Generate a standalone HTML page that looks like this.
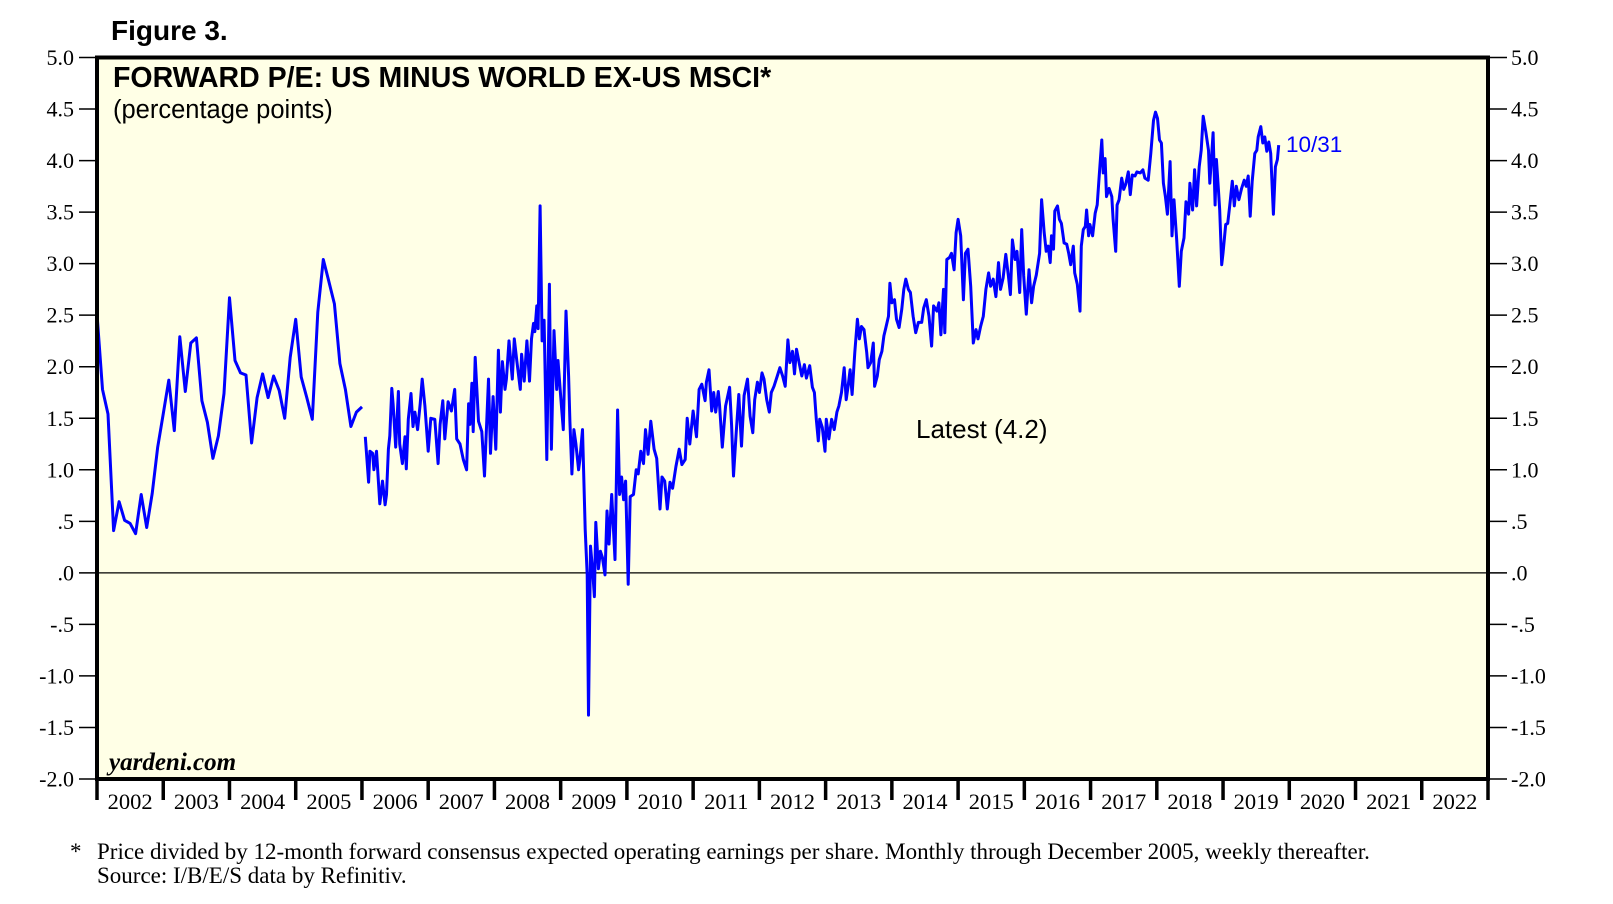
<!DOCTYPE html>
<html><head><meta charset="utf-8"><style>
html,body{margin:0;padding:0;background:#fff;}
svg{display:block;}
</style></head><body>
<svg id="chart" width="1613" height="904" viewBox="0 0 1613 904" xmlns="http://www.w3.org/2000/svg">
<text x="111" y="40" font-family="Liberation Sans, sans-serif" font-weight="bold" font-size="28">Figure 3.</text>
<rect x="97" y="57.5" width="1391" height="721.5" fill="#FFFFE6" stroke="none"/>
<g id="grid"></g>
<g id="series"></g>
<rect x="97" y="57.5" width="1391" height="721.5" fill="none" stroke="#000" stroke-width="4"/>
<g id="axes"></g>
<text x="113" y="87" font-family="Liberation Sans, sans-serif" font-weight="bold" font-size="28.5">FORWARD P/E: US MINUS WORLD EX-US MSCI*</text>
<text x="113" y="118" font-family="Liberation Sans, sans-serif" font-size="25.5">(percentage points)</text>
<text x="916" y="438" font-family="Liberation Sans, sans-serif" font-size="26">Latest (4.2)</text>
<text x="1286" y="152" font-family="Liberation Sans, sans-serif" font-size="22.5" fill="#0000FF">10/31</text>
<text x="109" y="770" font-family="Liberation Serif, serif" font-weight="bold" font-style="italic" font-size="25">yardeni.com</text>
<text x="70" y="859" font-family="Liberation Serif, serif" font-size="23">*</text>
<text x="97" y="859" font-family="Liberation Serif, serif" font-size="23">Price divided by 12-month forward consensus expected operating earnings per share. Monthly through December 2005, weekly thereafter.</text>
<text x="97" y="883" font-family="Liberation Serif, serif" font-size="23">Source: I/B/E/S data by Refinitiv.</text>
</svg>
<script>
const yTicks = [5.0,4.5,4.0,3.5,3.0,2.5,2.0,1.5,1.0,0.5,0.0,-0.5,-1.0,-1.5,-2.0];
const yTickLabels = ["5.0","4.5","4.0","3.5","3.0","2.5","2.0","1.5","1.0",".5",".0","-.5","-1.0","-1.5","-2.0"];
const years = [2002,2003,2004,2005,2006,2007,2008,2009,2010,2011,2012,2013,2014,2015,2016,2017,2018,2019,2020,2021,2022];
const monthlyStart = 2002.0;
const monthlyValues = [2.51,1.78,1.54,0.41,0.69,0.51,0.48,0.38,0.76,0.44,0.77,1.22,1.54,1.87,1.38,2.29,1.76,2.23,2.28,1.67,1.46,1.11,1.33,1.74,2.67,2.06,1.94,1.92,1.26,1.70,1.93,1.70,1.91,1.77,1.50,2.09,2.46,1.90,1.70,1.49,2.53,3.04,2.83,2.61,2.03,1.78,1.42,1.56,1.61];
const weeklyDates = [2006.05,2006.10,2006.12,2006.16,2006.18,2006.22,2006.27,2006.31,2006.35,2006.37,2006.40,2006.42,2006.45,2006.47,2006.51,2006.55,2006.57,2006.61,2006.65,2006.67,2006.70,2006.74,2006.77,2006.80,2006.84,2006.88,2006.91,2006.95,2007.00,2007.04,2007.10,2007.15,2007.18,2007.22,2007.25,2007.30,2007.35,2007.40,2007.43,2007.48,2007.53,2007.58,2007.61,2007.63,2007.66,2007.68,2007.71,2007.76,2007.81,2007.85,2007.87,2007.91,2007.94,2007.98,2008.02,2008.06,2008.09,2008.12,2008.16,2008.18,2008.22,2008.27,2008.30,2008.34,2008.39,2008.41,2008.45,2008.49,2008.53,2008.56,2008.59,2008.61,2008.64,2008.66,2008.69,2008.72,2008.75,2008.79,2008.83,2008.86,2008.90,2008.94,2008.96,2009.00,2009.04,2009.08,2009.12,2009.14,2009.17,2009.20,2009.23,2009.27,2009.29,2009.33,2009.37,2009.40,2009.42,2009.45,2009.48,2009.51,2009.53,2009.57,2009.60,2009.63,2009.67,2009.70,2009.73,2009.77,2009.82,2009.86,2009.89,2009.92,2009.95,2009.98,2010.02,2010.05,2010.10,2010.14,2010.17,2010.21,2010.25,2010.28,2010.32,2010.36,2010.41,2010.45,2010.50,2010.53,2010.57,2010.61,2010.65,2010.69,2010.74,2010.79,2010.83,2010.88,2010.91,2010.95,2011.00,2011.05,2011.09,
2011.13,2011.18,2011.20,2011.24,2011.28,2011.31,2011.34,2011.38,2011.40,2011.44,2011.49,2011.55,2011.58,2011.61,2011.65,2011.69,2011.73,2011.77,2011.82,2011.86,2011.90,2011.93,2011.97,2012.00,2012.04,2012.07,2012.11,2012.15,2012.18,2012.22,2012.27,2012.31,2012.35,2012.39,2012.43,2012.46,2012.50,2012.53,2012.56,2012.60,2012.64,2012.68,2012.71,2012.76,2012.80,2012.83,2012.86,2012.89,2012.91,2012.95,2012.99,2013.01,2013.05,2013.09,2013.13,2013.17,2013.20,2013.24,2013.28,2013.31,2013.34,2013.37,2013.40,2013.44,2013.48,2013.51,2013.54,2013.58,2013.62,2013.64,2013.68,2013.72,2013.74,2013.78,2013.81,2013.85,2013.88,2013.91,2013.95,2013.97,2014.00,2014.04,2014.07,2014.11,2014.15,2014.18,2014.21,2014.25,2014.28,2014.32,2014.36,2014.40,2014.45,2014.48,2014.52,2014.56,2014.60,2014.63,2014.68,2014.71,2014.74,2014.78,2014.80,2014.83,2014.87,2014.90,2014.94,2014.97,2015.00,2015.04,2015.08,2015.11,2015.15,2015.19,2015.23,2015.27,2015.30,2015.34,2015.38,2015.42,2015.46,2015.49,2015.53,2015.57,2015.61,2015.64,2015.68,2015.72,2015.76,2015.79,2015.82,2015.86,2015.89,2015.93,2015.96,2015.99,2016.03,2016.07,2016.11,2016.14,2016.18,2016.23,
2016.26,2016.30,2016.33,2016.36,2016.39,2016.41,2016.44,2016.46,2016.50,2016.53,2016.56,2016.60,2016.64,2016.67,2016.70,2016.74,2016.76,2016.80,2016.84,2016.86,2016.89,2016.92,2016.94,2016.97,2016.99,2017.03,2017.07,2017.10,2017.13,2017.17,2017.19,2017.22,2017.24,2017.28,2017.32,2017.34,2017.38,2017.40,2017.43,2017.47,2017.50,2017.53,2017.57,2017.60,2017.63,2017.67,2017.70,2017.75,2017.79,2017.82,2017.87,2017.91,2017.95,2017.98,2018.01,2018.04,2018.07,2018.10,2018.13,2018.16,2018.20,2018.23,2018.26,2018.30,2018.34,2018.37,2018.41,2018.44,2018.48,2018.50,2018.54,2018.57,2018.60,2018.64,2018.67,2018.70,2018.74,2018.78,2018.80,2018.83,2018.85,2018.88,2018.90,2018.93,2018.95,2018.98,2019.00,2019.04,2019.07,2019.10,2019.14,2019.17,2019.20,2019.24,2019.28,2019.32,2019.35,2019.38,2019.41,2019.44,2019.48,2019.51,2019.53,2019.57,2019.60,2019.63,2019.66,2019.69,2019.72,2019.76,2019.79,2019.82,2019.84];
const weeklyValues = [1.32,0.88,1.18,1.16,1.00,1.18,0.67,0.89,0.66,0.76,1.20,1.33,1.79,1.64,1.22,1.76,1.25,1.06,1.32,1.01,1.49,1.74,1.42,1.56,1.39,1.64,1.88,1.62,1.18,1.50,1.49,1.06,1.44,1.67,1.30,1.66,1.57,1.78,1.30,1.25,1.10,1.00,1.64,1.44,1.84,1.37,2.09,1.47,1.37,0.94,1.25,1.88,1.16,1.71,1.20,2.16,1.56,2.05,1.78,1.88,2.25,1.88,2.27,2.05,1.78,2.12,1.86,2.25,1.86,2.27,2.42,2.34,2.59,2.37,3.56,2.25,2.45,1.10,2.80,1.20,2.35,1.78,2.06,1.71,1.39,2.54,1.91,1.47,0.96,1.39,1.25,1.00,1.10,1.39,0.42,-0.02,-1.38,0.26,0.04,-0.23,0.49,0.04,0.21,0.15,-0.02,0.60,0.28,0.76,0.13,1.58,0.76,0.93,0.71,0.89,-0.11,0.74,0.76,1.00,0.96,1.18,1.06,1.39,1.15,1.47,1.20,1.11,0.62,0.93,0.89,0.62,0.88,0.82,1.03,1.20,1.05,1.10,1.50,1.25,1.57,1.32,1.78,
1.83,1.67,1.85,1.97,1.57,1.75,1.56,1.76,1.62,1.22,1.62,1.80,1.43,0.94,1.36,1.73,1.23,1.72,1.88,1.52,1.36,1.68,1.85,1.75,1.94,1.88,1.68,1.56,1.75,1.81,1.91,1.99,1.91,1.81,2.26,2.04,2.15,1.93,2.17,2.04,1.91,2.02,1.89,2.01,1.80,1.75,1.49,1.28,1.49,1.41,1.18,1.49,1.30,1.49,1.39,1.56,1.62,1.75,1.99,1.68,1.81,1.97,1.73,2.14,2.46,2.27,2.39,2.36,2.14,1.99,2.04,2.23,1.81,1.91,2.07,2.15,2.30,2.38,2.49,2.81,2.62,2.65,2.46,2.38,2.56,2.75,2.85,2.75,2.72,2.49,2.33,2.43,2.43,2.57,2.65,2.49,2.20,2.59,2.54,2.62,2.31,2.75,2.33,3.04,3.06,3.10,2.94,3.30,3.43,3.27,2.65,3.10,3.14,2.78,2.23,2.36,2.27,2.39,2.49,2.75,2.91,2.78,2.85,2.68,3.01,2.75,2.86,3.09,2.88,2.70,3.23,3.04,3.12,2.72,3.33,2.88,2.51,2.94,2.62,2.78,2.89,3.10,
3.62,3.30,3.12,3.17,3.01,3.27,3.14,3.51,3.56,3.43,3.39,3.20,3.19,3.10,2.99,3.17,2.91,2.80,2.54,3.17,3.33,3.36,3.52,3.27,3.38,3.27,3.49,3.57,3.85,4.20,3.88,4.02,3.65,3.73,3.65,3.43,3.12,3.57,3.62,3.83,3.72,3.77,3.89,3.67,3.86,3.85,3.89,3.88,3.91,3.83,3.81,4.07,4.39,4.47,4.41,4.20,4.17,3.78,3.65,3.48,3.99,3.27,3.62,3.23,2.78,3.12,3.25,3.60,3.48,3.78,3.52,3.91,3.56,3.94,4.10,4.43,4.28,4.10,3.78,4.07,4.27,3.57,4.01,3.72,3.52,2.99,3.10,3.38,3.39,3.56,3.80,3.56,3.75,3.62,3.73,3.81,3.75,3.85,3.46,3.80,4.07,4.10,4.23,4.33,4.17,4.23,4.09,4.18,4.07,3.48,3.94,4.01,4.15];

const NS = 'http://www.w3.org/2000/svg';
const L = 97, R = 1488, T = 57.5, B = 779;
const xMin = 2002, xMax = 2023, yMin = -2, yMax = 5;
function xScale(v){ return L + (v - xMin) / (xMax - xMin) * (R - L); }
function yScale(v){ return B - (v - yMin) / (yMax - yMin) * (B - T); }
function mk(tag, attrs, parent){ const e = document.createElementNS(NS, tag); for (const k in attrs) e.setAttribute(k, attrs[k]); parent.appendChild(e); return e; }

const grid = document.getElementById('grid');
const axes = document.getElementById('axes');
const series = document.getElementById('series');

const zl = mk('line', {x1:L, x2:R, y1:yScale(0), y2:yScale(0), stroke:'#000', 'stroke-width':1.3}, grid);



yTicks.forEach((v, i) => {
  const y = yScale(v);
  const tl = mk('line', {x1:79, x2:96, y1:y, y2:y, stroke:'#000', 'stroke-width':1.5}, axes);
  
  
  const tr = mk('line', {x1:1490, x2:1507, y1:y, y2:y, stroke:'#000', 'stroke-width':1.5}, axes);
  
  
  const a = mk('text', {x:74, y:y+7.5, 'text-anchor':'end', 'font-family':'Liberation Serif, serif', 'font-size':22}, axes);
  a.textContent = yTickLabels[i];
  
  
  const b = mk('text', {x:1511, y:y+7.5, 'text-anchor':'start', 'font-family':'Liberation Serif, serif', 'font-size':22}, axes);
  b.textContent = yTickLabels[i];
  
  
});

for (let k = 0; k <= years.length; k++) {
  const x = xScale(xMin + k);
  const t = mk('line', {x1:x, x2:x, y1:B, y2:800, stroke:'#000', 'stroke-width':3.5}, axes);
  
  
}
years.forEach(yr => {
  const t = mk('text', {x:xScale(yr + 0.5), y:809, 'text-anchor':'middle', 'font-family':'Liberation Serif, serif', 'font-size':22.5}, axes);
  t.textContent = String(yr);
  
  
});

let d1 = '';
monthlyValues.forEach((v, i) => { d1 += (i ? 'L' : 'M') + xScale(monthlyStart + i/12).toFixed(1) + ',' + yScale(v).toFixed(1); });
const p1 = mk('path', {d:d1, fill:'none', stroke:'#0000FF', 'stroke-width':3, 'stroke-linejoin':'round'}, series);



let d2 = '';
weeklyDates.forEach((t, i) => { d2 += (i ? 'L' : 'M') + xScale(t).toFixed(1) + ',' + yScale(weeklyValues[i]).toFixed(1); });
const p2 = mk('path', {d:d2, fill:'none', stroke:'#0000FF', 'stroke-width':3, 'stroke-linejoin':'round'}, series);


</script>
</body></html>
